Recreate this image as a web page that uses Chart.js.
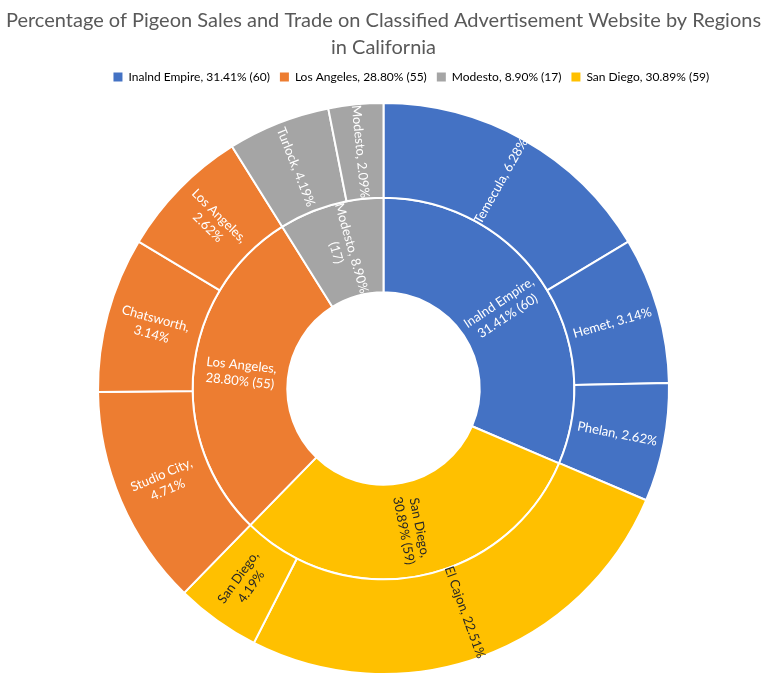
<!DOCTYPE html>
<html>
<head>
<meta charset="utf-8">
<script src="https://cdn.jsdelivr.net/npm/chart.js@4.4.1/dist/chart.umd.min.js"></script>
<style>
  html, body { margin: 0; padding: 0; background: #fff; }
  #wrap { width: 767px; height: 683px; }
</style>
</head>
<body>
<div id="wrap"><canvas id="chart" width="767" height="683"></canvas></div>
<script>
/* ---------- 데이터 ---------- */
const titleLines = ["Percentage of Pigeon Sales and Trade on Classified Advertisement Website by Regions", "in California"];

// 안쪽 링 (지역) — 시계방향, 12시부터
const regionNames = ["Inalnd Empire", "San Diego", "Los Angeles", "Modesto"];
const regionPct = [31.41, 30.89, 28.80, 8.90];
const regionCount = [60, 59, 55, 17];
const regionColors = ["#4472C4", "#FFC000", "#ED7D31", "#A5A5A5"];
const legendOrder = [0, 2, 3, 1];

// 바깥 링 (도시)
const cityNames = ["Temecula", "Hemet", "Phelan", "El Cajon", "San Diego", "Studio City", "Chatsworth", "Los Angeles", "Turlock", "Modesto"];
const cityPct = [6.28, 3.14, 2.62, 22.51, 4.19, 4.71, 3.14, 2.62, 4.19, 2.09];
const cityShare = [16.4, 8.3, 6.7, 26.1, 4.8, 12.5, 8.8, 7.5, 5.8, 3.1]; // slice size as drawn
const cityRegion = [0, 0, 0, 1, 1, 2, 2, 2, 3, 3];
const cityWrap = [false, false, false, false, true, true, true, true, false, false];

const FONT = "Lato, 'Open Sans', sans-serif";

/* ---------- 라벨 ---------- */
const regionLabelLines = regionNames.map((n, i) =>
  i === 3 ? [`${n}, ${regionPct[i].toFixed(2)}%`, `(${regionCount[i]})`]
          : [`${n},`, `${regionPct[i].toFixed(2)}% (${regionCount[i]})`]);
const cityLabelLines = cityNames.map((n, i) =>
  cityWrap[i] ? [`${n},`, `${cityPct[i].toFixed(2)}%`] : [`${n}, ${cityPct[i].toFixed(2)}%`]);

const sliceLabels = {
  id: "sliceLabels",
  afterDatasetsDraw(chart) {
    const ctx = chart.ctx;
    chart.data.datasets.forEach((ds, di) => {
      const meta = chart.getDatasetMeta(di);
      meta.data.forEach((arc, i) => {
        const p = arc.getProps(["x", "y", "startAngle", "endAngle", "innerRadius", "outerRadius"], true);
        const a = (p.startAngle + p.endAngle) / 2;
        const r = (p.innerRadius + p.outerRadius) / 2;
        const cx = p.x + Math.cos(a) * r, cy = p.y + Math.sin(a) * r;
        let rot = a;
        if (Math.cos(a) < 0) rot += Math.PI;
        const lines = ds.labelLines[i];
        const color = ds.backgroundColor[i] === "#FFC000" ? "#262626" : "#ffffff";
        ctx.save();
        ctx.translate(cx, cy);
        ctx.rotate(rot);
        ctx.font = `13px ${FONT}`;
        ctx.fillStyle = color;
        ctx.textAlign = "center";
        ctx.textBaseline = "middle";
        const lh = 16;
        lines.forEach((t, k) => ctx.fillText(t, 0, (k - (lines.length - 1) / 2) * lh));
        ctx.restore();
      });
    });
  }
};

new Chart(document.getElementById("chart"), {
  type: "doughnut",
  data: {
    labels: cityNames,
    datasets: [
      {
        data: cityShare,
        backgroundColor: cityRegion.map(r => regionColors[r]),
        borderColor: "#ffffff", borderWidth: 2,
        labelLines: cityLabelLines
      },
      {
        data: regionPct,
        backgroundColor: regionColors,
        borderColor: "#ffffff", borderWidth: 2,
        labelLines: regionLabelLines
      }
    ]
  },
  options: {
    responsive: false, animation: false,
    cutout: "33.7%",
    layout: { padding: { top: 0, bottom: 8 } },
    plugins: {
      tooltip: { enabled: false },
      title: {
        display: true, text: titleLines, color: "#595959",
        font: { family: FONT, size: 20, weight: "normal", lineHeight: 1.35 },
        padding: { top: 7, bottom: 0 }
      },
      // 범례와 도넛 사이 여백용
      subtitle: {
        display: true, text: "", weight: 500,
        font: { size: 1, lineHeight: 1 },
        padding: { top: 0, bottom: 8 }
      },
      legend: {
        display: true, position: "top",
        labels: {
          color: "#595959", font: { family: FONT, size: 12 },
          boxWidth: 9, boxHeight: 9, padding: 10,
          // 원본 범례가 오른쪽으로 치우쳐 있어서 앞에 빈 항목 하나
          generateLabels: () => [{
            text: "          ", fillStyle: "rgba(0,0,0,0)", strokeStyle: "rgba(0,0,0,0)", lineWidth: 0, hidden: false
          }].concat(legendOrder.map(i => ({
            text: `${regionNames[i]}, ${regionPct[i].toFixed(2)}% (${regionCount[i]})`,
            fillStyle: regionColors[i], strokeStyle: regionColors[i], lineWidth: 0, hidden: false, index: i
          })))
        }
      }
    }
  },
  plugins: [sliceLabels]
});
</script>
</body>
</html>
